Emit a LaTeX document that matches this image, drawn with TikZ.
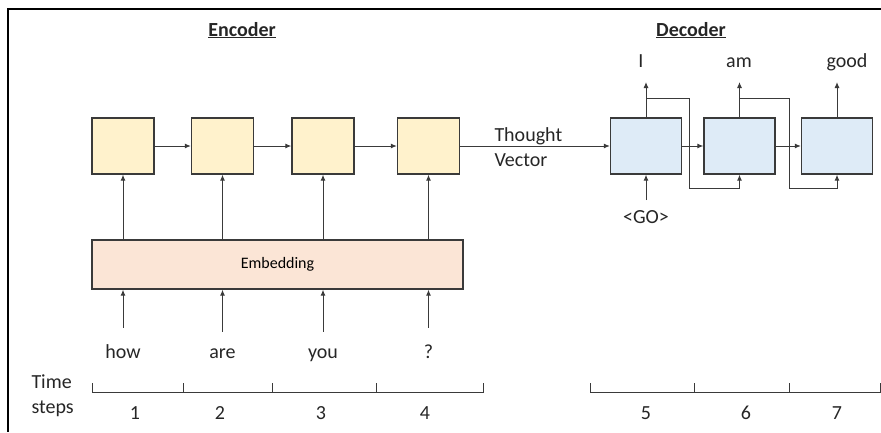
\documentclass[tikz,border=0pt]{standalone}
\usepackage{fontspec}
\setmainfont{Carlito}
\usetikzlibrary{arrows.meta,positioning}

\definecolor{encfill}{HTML}{FFF2CC}
\definecolor{decfill}{HTML}{DEEBF7}
\definecolor{embfill}{HTML}{FBE5D6}
\definecolor{edge}{HTML}{3A3A3A}

\begin{document}
\begin{tikzpicture}[
    x=1pt, y=-1pt,
    font=\fontsize{20}{25}\selectfont,
    line width=1pt, draw=edge,
    >={Latex[length=6pt,width=5pt]},
    encbox/.style={draw=edge, line width=1.3pt, fill=encfill, minimum width=62pt, minimum height=56pt},
    decbox/.style={draw=edge, line width=1.3pt, fill=decfill, minimum width=71pt, minimum height=56pt},
    embbox/.style={draw=edge, line width=1.3pt, fill=embfill, minimum width=371pt, minimum height=49pt,
      font=\fontsize{16}{18}\selectfont},
    word/.style={anchor=base, inner sep=0pt, text=black!85}
  ]
  \useasboundingbox (0,0) rectangle (881,432);

  % frame (only top and left edges show)
  \draw[line width=2pt, black] (881,9) -- (8,9) -- (8,432);

  % titles
  \node[word] (enctitle) at (242,36) {\textbf{\underline{Encoder}}};
  \node[word] (dectitle) at (691,36) {\textbf{\underline{Decoder}}};

  % encoder
  \node[embbox] (emb) at (277.5,264.5) {Embedding};
  \foreach \x/\w [count=\i] in {123/how, 222.5/are, 323/you, 428.5/?} {
    \node[encbox] (e\i) at (\x,146) {};
    \node[word] (w\i) at (\x,358) {\w};
    \draw[->] (w\i.north) ++(0,-16) -- (w\i |- emb.south);
    \draw[->] (e\i |- emb.north) -- (e\i.south);
  }
  \foreach \i [evaluate=\i as \j using int(\i+1)] in {1,2,3}
    \draw[->] (e\i.east) -- (e\j.west);

  % decoder
  \foreach \x [count=\i] in {646,739.5,837}
    \node[decbox] (d\i) at (\x,146) {};
  \node[word] (o1) at (641,67) {I};
  \node[word] (o2) at (739,67) {am};
  \node[word] (o3) at (847,67) {good};
  \foreach \i in {1,2,3}
    \draw[->] (d\i.north) -- (d\i.north |- 0,82);
  \draw[->] (d1.east) -- (d2.west);
  \draw[->] (d2.east) -- (d3.west);
  \draw[->] (d1.north |- 0,98) -| (689,188) -| (d2.south);
  \draw[->] (d2.north |- 0,98) -| (789,188) -| (d3.south);

  \node[word] (go) at (646,223) {<GO>};
  \draw[->] (d1.south |- 0,200) -- (d1.south);

  % thought vector
  \draw[->] (e4.east) -- (d1.west);
  \node[anchor=west, align=left, inner sep=0pt, text=black!85] (tv) at (494,147) {Thought\\Vector};

  % time steps
  \node[anchor=west, align=left, inner sep=0pt, text=black!85] (ts) at (31,396) {Time\\steps};
  \draw (92,383) -- (92,392) -- (483,392) -- (483,383);
  \foreach \x in {183,272,376} \draw (\x,383) -- (\x,392);
  \draw (590,383) -- (590,392) -- (880,392) -- (880,383);
  \foreach \x in {694,789} \draw (\x,383) -- (\x,392);
  \foreach \x/\n in {135/1, 220/2, 321/3, 425/4, 646/5, 746/6, 837/7}
    \node[word] (n\n) at (\x,419) {\n};
\end{tikzpicture}
\end{document}
